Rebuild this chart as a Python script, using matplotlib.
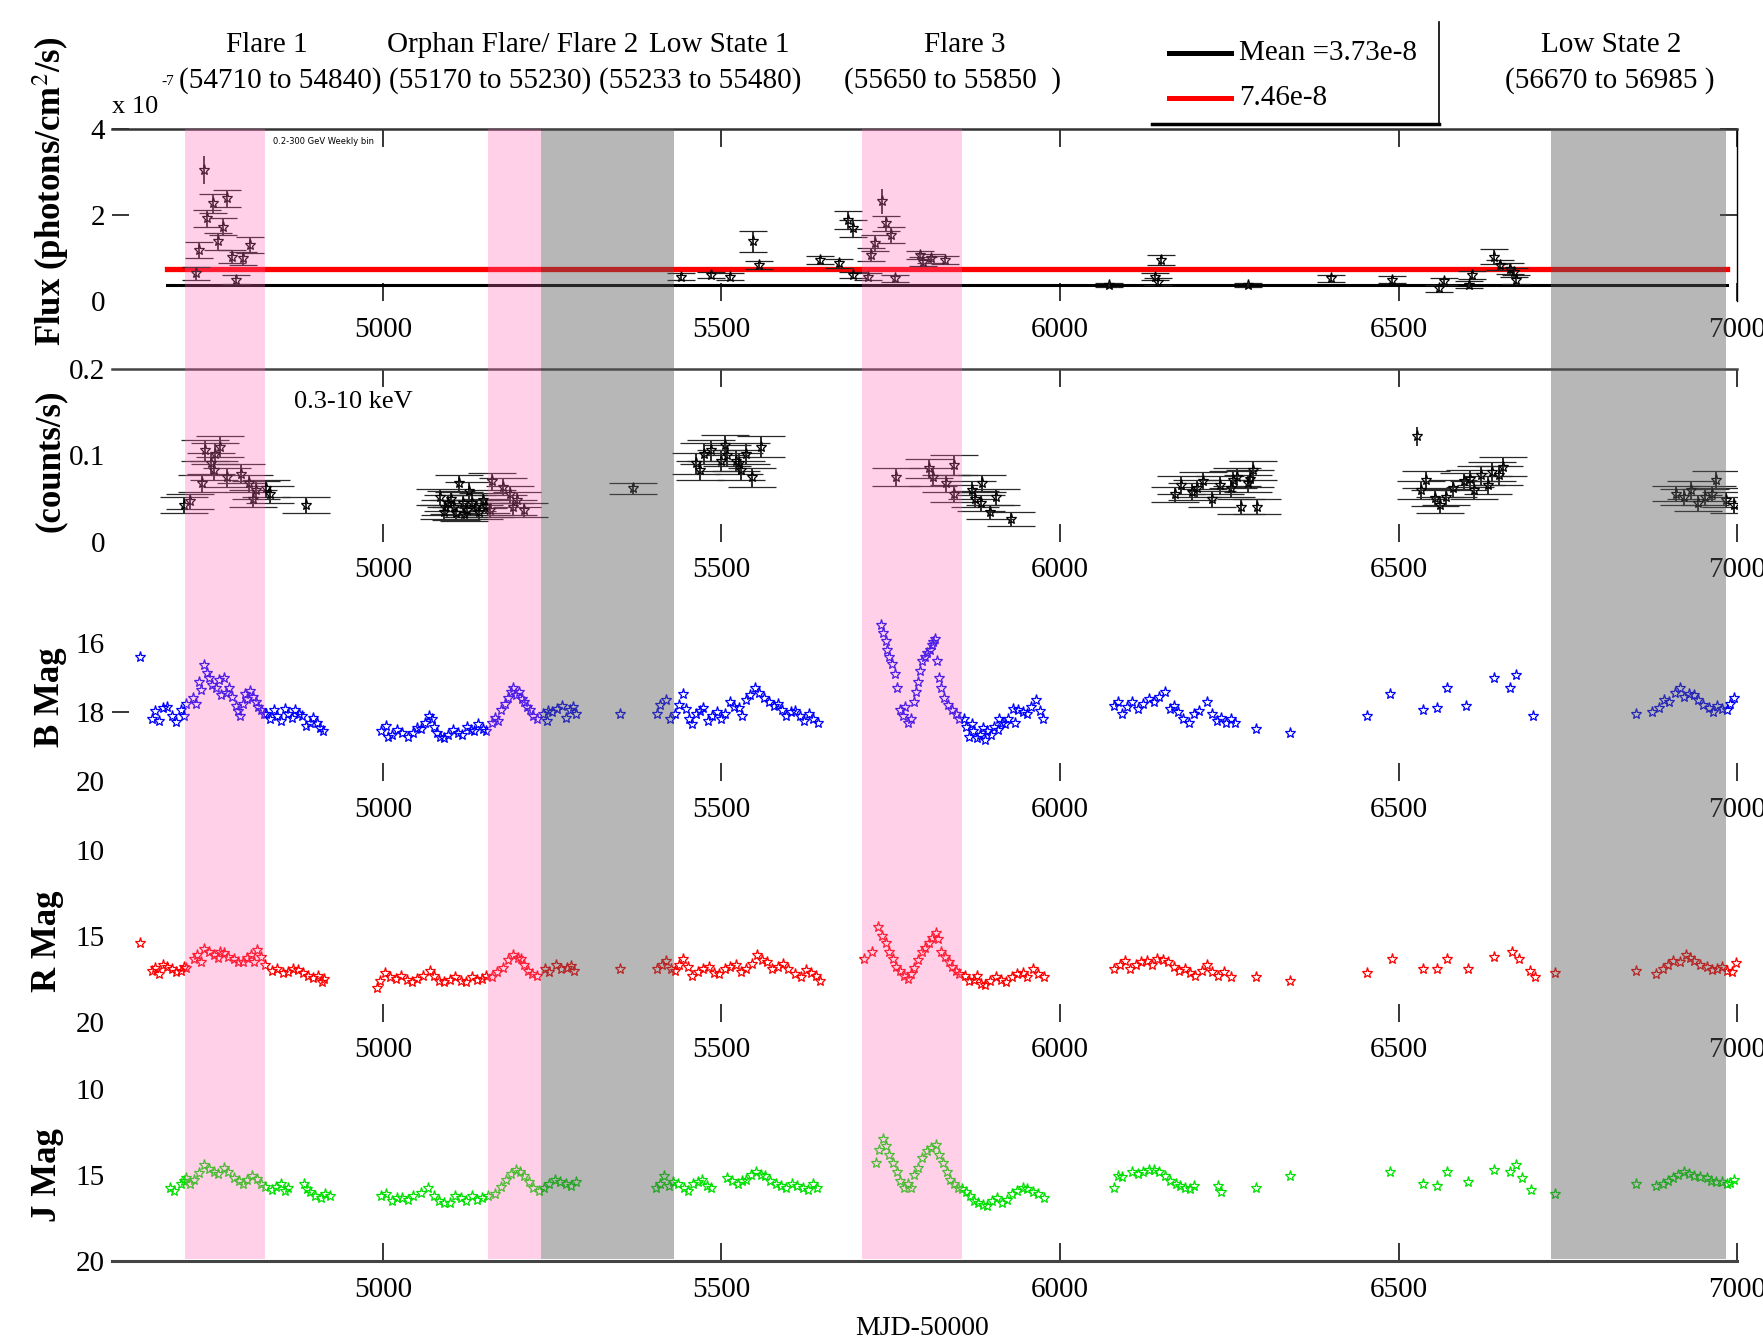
import numpy as np
import matplotlib.pyplot as plt
from matplotlib.lines import Line2D

plt.rcParams['font.family'] = ['Liberation Serif', 'DejaVu Serif']
plt.rcParams['mathtext.fontset'] = 'stix'

# ---- data (MJD-50000) ----
xlim = (4600, 7000)
xticks = [5000, 5500, 6000, 6500, 7000]

# Fermi weekly flux (1e-7 ph/cm2/s): mjd, flux, err
fermi = np.array([
    [4724, 0.65, 0.15], [4728, 1.19, 0.18], [4741, 1.93, 0.20], [4749, 2.28, 0.22],
    [4757, 1.39, 0.20], [4764, 1.73, 0.20], [4770, 2.39, 0.20], [4778, 1.04, 0.15],
    [4783, 0.50, 0.10], [4794, 1.00, 0.15], [4804, 1.31, 0.18],
    [5441, 0.57, 0.08], [5485, 0.61, 0.08], [5512, 0.57, 0.08], [5547, 1.39, 0.25],
    [5555, 0.84, 0.10], [5645, 0.96, 0.10], [5674, 0.88, 0.10], [5687, 1.89, 0.20],
    [5695, 1.70, 0.20], [5695, 0.61, 0.08], [5716, 0.57, 0.08], [5721, 1.08, 0.15],
    [5727, 1.35, 0.18], [5743, 1.81, 0.18], [5751, 1.54, 0.18], [5756, 0.53, 0.08],
    [5793, 1.08, 0.10], [5798, 0.92, 0.10], [5809, 1.00, 0.10], [5830, 0.96, 0.10],
    [6073, 0.38, 0.05], [6141, 0.57, 0.08], [6145, 0.45, 0.08], [6149, 0.96, 0.12],
    [6277, 0.38, 0.05], [6401, 0.53, 0.08], [6491, 0.50, 0.08], [6560, 0.30, 0.08],
    [6567, 0.46, 0.08], [6604, 0.38, 0.08], [6609, 0.61, 0.10], [6641, 1.04, 0.18],
    [6650, 0.84, 0.12], [6665, 0.76, 0.12], [6670, 0.67, 0.10], [6673, 0.50, 0.10],
])
fermi_nocap = np.array([[4736, 3.05, 0.33], [5737, 2.32, 0.30]])
fermi_mean = 0.373
fermi_twice_mean = 0.746
mean_span = (4682, 6985)

# Swift XRT 0.3-10 keV (counts/s): mjd, rate, err
xray = np.array([
    [4707, .043, .009], [4715, .047, .009], [4733, .068, .010], [4738, .106, .012],
    [4747, .091, .012], [4750, .083, .011], [4752, .102, .012], [4759, .110, .012],
    [4770, .075, .011], [4791, .079, .011], [4802, .068, .010], [4808, .050, .010],
    [4812, .060, .010], [4828, .062, .010], [4833, .055, .010], [4886, .043, .009],
    [5085, .052, .009], [5090, .035, .008], [5092, .040, .009], [5097, .045, .009],
    [5100, .050, .009], [5105, .040, .008], [5108, .033, .008], [5113, .068, .010],
    [5118, .045, .009], [5120, .032, .008], [5124, .037, .008], [5127, .059, .010],
    [5132, .045, .009], [5137, .040, .009], [5142, .035, .008], [5148, .048, .009],
    [5152, .042, .008], [5159, .037, .008],
    [5161, .070, .010], [5177, .064, .010], [5188, .055, .010], [5192, .040, .009],
    [5198, .049, .009], [5209, .037, .008], [5369, .062, .006],
    [5463, .091, .012], [5468, .083, .011], [5474, .102, .012], [5485, .106, .012],
    [5500, .094, .012], [5505, .112, .012], [5508, .100, .012], [5521, .094, .012],
    [5526, .091, .012], [5529, .083, .011], [5536, .102, .012], [5545, .075, .011],
    [5558, .110, .012],
    [5758, .075, .010], [5806, .085, .011], [5812, .075, .010], [5832, .068, .010],
    [5843, .089, .011], [5843, .056, .010],
    [5870, .060, .010], [5875, .050, .009], [5883, .045, .009], [5885, .068, .010],
    [5896, .035, .008], [5906, .052, .009], [5927, .027, .008],
    [6170, .055, .009], [6179, .066, .010], [6195, .058, .010], [6203, .062, .010],
    [6212, .071, .010], [6224, .050, .009], [6237, .066, .010], [6253, .062, .010],
    [6256, .072, .010], [6262, .075, .010], [6267, .041, .009], [6278, .068, .010],
    [6280, .073, .010], [6285, .083, .011], [6291, .041, .009],
    [6533, .060, .010], [6541, .072, .010], [6554, .051, .009], [6562, .043, .009],
    [6570, .052, .009], [6580, .062, .010], [6596, .070, .010], [6606, .073, .010],
    [6611, .060, .010], [6622, .077, .011], [6632, .066, .010], [6638, .081, .011],
    [6648, .077, .011], [6654, .087, .011],
    [6910, .056, .009], [6921, .052, .009], [6932, .060, .010], [6942, .045, .009],
    [6952, .052, .009], [6963, .056, .009], [6969, .072, .010], [6984, .049, .009],
    [6995, .043, .009],
])
xray_nocap = np.array([[6528, 0.122, 0.011]])

# optical / NIR light curves: mjd, mag
b_band = np.array([
    [4641, 16.40], [4659, 18.18], [4664, 17.95], [4670, 18.25], [4675, 17.88], [4681, 17.85],
    [4688, 18.11], [4694, 18.28], [4702, 17.94], [4706, 18.10], [4710, 17.76],
    [4720, 17.59], [4724, 17.75], [4728, 17.11], [4732, 17.35], [4736, 16.64], [4740, 16.85],
    [4744, 17.00], [4748, 17.20], [4754, 17.29], [4758, 17.05], [4761, 17.50], [4765, 17.00],
    [4769, 17.45], [4773, 17.29], [4778, 17.55], [4783, 17.82], [4786, 17.95], [4789, 18.12],
    [4793, 17.75], [4797, 17.47], [4800, 17.60], [4804, 17.38], [4808, 17.55], [4812, 17.70],
    [4816, 17.85], [4820, 17.94], [4824, 18.05],
    [4828, 18.06], [4833, 18.20], [4839, 17.94], [4844, 18.10], [4849, 18.24], [4855, 17.90],
    [4860, 18.06], [4866, 18.15], [4871, 17.94], [4876, 18.05], [4881, 18.12], [4887, 18.40],
    [4892, 18.30], [4897, 18.15], [4903, 18.30], [4907, 18.45], [4911, 18.53],
    [4997, 18.53], [5004, 18.40], [5008, 18.70], [5013, 18.65], [5021, 18.50], [5029, 18.59],
    [5037, 18.70], [5045, 18.59], [5050, 18.45], [5056, 18.47], [5062, 18.30], [5068, 18.12],
    [5072, 18.20], [5076, 18.41], [5080, 18.60], [5084, 18.71], [5090, 18.75], [5097, 18.65],
    [5104, 18.50], [5111, 18.59], [5117, 18.65], [5124, 18.41], [5130, 18.50], [5135, 18.53],
    [5141, 18.35], [5148, 18.47], [5153, 18.55],
    [5161, 18.30], [5165, 18.15], [5170, 18.25], [5174, 17.94], [5180, 17.75], [5185, 17.59],
    [5189, 17.40], [5193, 17.29], [5197, 17.50], [5201, 17.41], [5205, 17.60], [5209, 17.70],
    [5213, 17.85], [5217, 17.94], [5222, 18.10], [5227, 18.18],
    [5237, 18.06], [5243, 18.25], [5244, 17.95], [5250, 18.00], [5257, 17.90], [5264, 17.82],
    [5270, 18.15], [5277, 17.94], [5281, 17.85], [5285, 18.06], [5351, 18.06],
    [5405, 18.06], [5410, 17.80], [5418, 17.65], [5424, 18.20], [5431, 18.06], [5437, 17.80],
    [5444, 17.47], [5448, 17.90], [5452, 18.18], [5457, 18.35], [5463, 18.06], [5468, 17.95],
    [5473, 17.88], [5480, 18.25], [5486, 18.12], [5493, 18.00], [5500, 18.18], [5506, 18.05],
    [5513, 17.70], [5519, 17.85], [5526, 17.88], [5531, 18.10], [5537, 17.65], [5543, 17.50],
    [5550, 17.29], [5556, 17.45], [5563, 17.59], [5570, 17.70], [5577, 17.82], [5583, 17.75],
    [5590, 17.94], [5596, 18.10], [5603, 18.00], [5609, 17.95], [5616, 18.12], [5622, 18.25],
    [5629, 18.06], [5636, 18.20], [5643, 18.30],
    [5735, 15.46], [5738, 15.70], [5743, 15.93], [5745, 16.20], [5748, 16.40], [5752, 16.60],
    [5756, 16.88], [5760, 17.30], [5764, 17.94], [5768, 18.10], [5771, 17.85], [5775, 18.30],
    [5780, 18.20], [5785, 17.70], [5788, 17.40], [5790, 17.11], [5793, 16.80], [5796, 16.52],
    [5800, 16.40], [5804, 16.28], [5808, 16.20], [5811, 16.05], [5813, 15.95], [5816, 15.87],
    [5819, 16.50], [5822, 17.00], [5825, 17.30], [5829, 17.59], [5835, 17.80], [5840, 17.94],
    [5846, 18.05], [5851, 18.18],
    [5858, 18.20], [5861, 18.41], [5866, 18.70], [5870, 18.35], [5872, 18.53], [5877, 18.75],
    [5882, 18.65], [5887, 18.45], [5890, 18.80], [5893, 18.53], [5898, 18.65], [5903, 18.41],
    [5908, 18.50], [5910, 18.20], [5914, 18.30], [5919, 18.35], [5924, 18.18], [5930, 17.90],
    [5934, 18.30], [5938, 17.94], [5945, 18.00], [5951, 18.06], [5957, 17.85], [5965, 17.65],
    [5970, 17.95], [5975, 18.18],
    [6080, 17.82], [6085, 17.70], [6091, 18.06], [6099, 17.85], [6107, 17.70], [6115, 17.90],
    [6123, 17.76], [6131, 17.60], [6139, 17.70], [6147, 17.55], [6155, 17.41], [6162, 17.90],
    [6169, 17.82], [6175, 18.00], [6182, 18.18], [6190, 18.30], [6198, 18.06], [6205, 17.95],
    [6217, 17.70], [6225, 18.05], [6232, 18.24], [6238, 18.15], [6245, 18.30], [6252, 18.20],
    [6258, 18.30], [6290, 18.47], [6340, 18.59],
    [6454, 18.12], [6488, 17.47], [6536, 17.94], [6557, 17.88], [6572, 17.29], [6599, 17.82],
    [6641, 17.00], [6665, 17.29], [6673, 16.93], [6699, 18.12],
    [6850, 18.06], [6875, 18.00], [6884, 17.88], [6892, 17.65], [6900, 17.70], [6908, 17.45],
    [6916, 17.29], [6922, 17.55], [6929, 17.47], [6936, 17.50], [6943, 17.65], [6950, 17.80],
    [6958, 17.88], [6965, 18.00], [6971, 17.82], [6978, 17.90], [6985, 17.94], [6990, 17.75],
    [6995, 17.58],
])
r_band = np.array([
    [4641, 15.40], [4659, 17.06], [4664, 16.85], [4670, 17.20], [4675, 16.70], [4681, 16.80],
    [4688, 16.90], [4694, 17.10], [4702, 17.06], [4706, 16.80], [4710, 16.88],
    [4721, 16.35], [4726, 16.10], [4731, 16.50], [4736, 15.76], [4743, 15.90], [4750, 16.11],
    [4757, 16.30], [4760, 15.90], [4765, 16.00], [4772, 16.20], [4780, 16.35], [4786, 16.50],
    [4794, 16.52], [4800, 16.30], [4806, 16.11], [4810, 16.50], [4814, 15.80], [4820, 16.20],
    [4826, 16.70], [4836, 17.06], [4844, 16.90], [4852, 17.14], [4860, 17.10], [4868, 16.94],
    [4875, 16.95], [4882, 17.14], [4889, 17.30], [4897, 17.42], [4905, 17.30], [4910, 17.70],
    [4913, 17.50],
    [4992, 18.01], [4996, 17.60], [5003, 17.14], [5010, 17.40], [5019, 17.50], [5027, 17.30],
    [5035, 17.55], [5043, 17.70], [5051, 17.50], [5060, 17.30], [5070, 17.06], [5075, 17.35],
    [5083, 17.62], [5090, 17.70], [5099, 17.55], [5107, 17.40], [5115, 17.62], [5123, 17.70],
    [5131, 17.40], [5139, 17.55], [5147, 17.50], [5152, 17.35],
    [5161, 17.40], [5169, 17.10], [5177, 16.88], [5185, 16.40], [5193, 16.11], [5199, 16.30],
    [5204, 16.35], [5209, 16.70], [5214, 17.06], [5220, 17.20], [5227, 17.30],
    [5240, 16.94], [5246, 17.10], [5256, 16.70], [5263, 16.90], [5272, 16.88], [5278, 16.75],
    [5282, 17.06], [5351, 16.94],
    [5405, 16.94], [5412, 16.70], [5418, 16.47], [5425, 16.90], [5431, 17.06], [5437, 16.70],
    [5444, 16.35], [5450, 16.80], [5457, 17.30], [5465, 17.10], [5473, 16.94], [5481, 16.80],
    [5489, 17.14], [5497, 17.20], [5505, 16.94], [5513, 16.80], [5521, 16.70], [5529, 17.10],
    [5537, 16.94], [5545, 16.60], [5553, 16.11], [5560, 16.40], [5567, 16.52], [5575, 16.90],
    [5583, 16.82], [5591, 16.60], [5599, 16.94], [5608, 17.20], [5617, 17.40], [5625, 17.00],
    [5633, 17.14], [5640, 17.30], [5646, 17.60],
    [5711, 16.35], [5722, 15.90], [5732, 14.45], [5737, 15.00], [5743, 15.40], [5748, 15.90],
    [5753, 16.35], [5758, 16.80], [5764, 17.06], [5770, 17.30], [5775, 17.50], [5780, 17.20],
    [5785, 16.88], [5790, 16.40], [5796, 15.90], [5801, 15.70], [5806, 15.40], [5811, 15.10],
    [5817, 14.82], [5820, 15.20], [5825, 15.90], [5830, 16.20], [5836, 16.52], [5841, 16.80],
    [5846, 17.06], [5851, 17.20],
    [5860, 17.30], [5866, 17.60], [5873, 17.55], [5878, 17.35], [5883, 17.80], [5890, 17.85],
    [5897, 17.62], [5905, 17.40], [5913, 17.55], [5920, 17.70], [5929, 17.40], [5937, 17.20],
    [5945, 17.14], [5952, 17.40], [5960, 16.94], [5968, 17.20], [5976, 17.40],
    [6080, 16.94], [6088, 16.70], [6096, 16.47], [6104, 16.90], [6112, 16.70], [6120, 16.50],
    [6128, 16.47], [6136, 16.70], [6144, 16.35], [6152, 16.40], [6160, 16.52], [6168, 16.80],
    [6176, 17.06], [6184, 16.90], [6192, 17.14], [6200, 17.30], [6210, 17.06], [6217, 16.70],
    [6225, 17.10], [6233, 17.30], [6242, 17.10], [6252, 17.40],
    [6290, 17.40], [6340, 17.62],
    [6454, 17.14], [6491, 16.35], [6536, 16.94], [6557, 16.94], [6572, 16.35], [6602, 16.94],
    [6641, 16.23], [6668, 15.90], [6678, 16.35], [6694, 17.06], [6702, 17.40], [6731, 17.14],
    [6850, 17.06], [6880, 17.20], [6890, 16.94], [6898, 16.70], [6906, 16.47], [6915, 16.50],
    [6924, 16.11], [6930, 16.30], [6937, 16.47], [6945, 16.70], [6956, 16.82], [6963, 17.00],
    [6971, 16.94], [6978, 16.80], [6985, 17.06], [6992, 17.10], [6998, 16.58],
])
j_band = np.array([
    [4686, 15.72], [4692, 15.90], [4702, 15.50], [4706, 15.30], [4710, 15.13], [4716, 15.50],
    [4721, 15.25], [4728, 14.85], [4736, 14.42], [4743, 14.60], [4750, 14.78], [4757, 14.90],
    [4765, 14.54], [4772, 14.80], [4780, 15.13], [4787, 15.30], [4794, 15.50], [4800, 15.25],
    [4807, 15.02], [4814, 15.20], [4820, 15.50], [4826, 15.70], [4836, 15.86], [4843, 15.70],
    [4849, 15.50], [4855, 15.90], [4860, 15.72], [4884, 15.50], [4888, 15.80], [4892, 15.98],
    [4900, 16.20], [4908, 16.34], [4915, 16.10], [4922, 16.22],
    [4997, 16.22], [5005, 16.10], [5013, 16.46], [5021, 16.30], [5029, 16.34], [5037, 16.45],
    [5045, 16.22], [5056, 16.00], [5067, 15.72], [5075, 16.20], [5083, 16.46], [5091, 16.60],
    [5099, 16.58], [5107, 16.20], [5115, 16.34], [5123, 16.50], [5131, 16.22], [5139, 16.40],
    [5147, 16.34], [5155, 16.20],
    [5166, 16.10], [5174, 15.70], [5182, 15.25], [5189, 14.90], [5196, 14.66], [5203, 14.80],
    [5209, 15.02], [5216, 15.40], [5222, 15.72], [5230, 15.90],
    [5238, 15.72], [5246, 15.50], [5254, 15.25], [5262, 15.40], [5270, 15.50], [5278, 15.60],
    [5286, 15.37],
    [5403, 15.72], [5410, 15.50], [5416, 15.02], [5422, 15.60], [5429, 15.37], [5436, 15.50],
    [5445, 15.72], [5451, 15.90], [5458, 15.50], [5465, 15.40], [5472, 15.25], [5479, 15.60],
    [5485, 15.72], [5508, 15.13], [5515, 15.30], [5524, 15.50], [5530, 15.35], [5537, 15.25],
    [5544, 15.00], [5551, 14.78], [5558, 14.95], [5564, 15.02], [5572, 15.30], [5580, 15.50],
    [5588, 15.60], [5596, 15.72], [5604, 15.50], [5612, 15.60], [5620, 15.75], [5628, 15.86],
    [5635, 15.50], [5641, 15.72],
    [5728, 14.30], [5733, 13.50], [5738, 12.87], [5743, 13.30], [5748, 13.82], [5753, 14.30],
    [5759, 14.78], [5764, 15.30], [5769, 15.72], [5775, 15.50], [5780, 15.72], [5785, 15.00],
    [5790, 14.54], [5797, 14.00], [5804, 13.58], [5810, 13.40], [5817, 13.22], [5822, 13.80],
    [5828, 14.30], [5833, 14.80], [5838, 15.25], [5844, 15.50], [5849, 15.72], [5855, 15.80],
    [5862, 15.98], [5867, 16.20], [5873, 16.46], [5879, 16.60], [5886, 16.70], [5892, 16.80],
    [5899, 16.46], [5907, 16.30], [5915, 16.58], [5922, 16.40], [5929, 16.10], [5937, 15.90],
    [5945, 15.72], [5952, 15.80], [5960, 15.98], [5968, 16.10], [5976, 16.34],
    [6080, 15.72], [6086, 15.02], [6092, 15.10], [6107, 14.78], [6115, 14.90], [6123, 14.78],
    [6131, 14.70], [6139, 14.66], [6147, 14.80], [6155, 15.02], [6163, 15.30], [6171, 15.50],
    [6178, 15.60], [6185, 15.72], [6192, 15.80], [6198, 15.60], [6233, 15.60], [6238, 15.98],
    [6290, 15.72], [6340, 15.02],
    [6488, 14.78], [6536, 15.50], [6557, 15.60], [6572, 14.78], [6602, 15.37], [6641, 14.66],
    [6665, 14.78], [6673, 14.42], [6683, 15.13], [6696, 15.86], [6731, 16.10],
    [6850, 15.50], [6880, 15.60], [6890, 15.50], [6898, 15.35], [6906, 15.13], [6913, 14.95],
    [6921, 14.78], [6929, 14.90], [6937, 15.02], [6945, 15.10], [6956, 15.13], [6962, 15.30],
    [6969, 15.37], [6978, 15.40], [6985, 15.50], [6990, 15.45], [6995, 15.25],
])

# shaded activity states
shade_start = [4708, 5156, 5233, 5708, 6725]
shade_end = [4826, 5233, 5430, 5855, 6983]
shade_kind = ['flare', 'flare', 'low', 'flare', 'low']

state_names = ['Flare 1', 'Orphan Flare/ Flare 2', 'Low State 1', 'Flare 3', 'Low State 2']
state_ranges = ['(54710 to 54840)', '(55170 to 55230)', '(55233 to 55480)',
                '(55650 to 55850  )', '(56670 to 56985 )']

# ---- figure ----
fig = plt.figure(figsize=(17.63, 13.39), dpi=100)
L, W = 0.0635, 0.9218
ax_g = fig.add_axes([L, 0.7750, W, 0.1285])
ax_x = fig.add_axes([L, 0.5952, W, 0.1293])
ax_b = fig.add_axes([L, 0.4164, W, 0.1032])
ax_r = fig.add_axes([L, 0.2367, W, 0.1285])
ax_j = fig.add_axes([L, 0.0579, W, 0.1285])
panels = [ax_g, ax_x, ax_b, ax_r, ax_j]

for ax in panels:
    ax.set_facecolor('none')
    ax.set_xlim(*xlim)
    ax.set_xticks(xticks)
    ax.set_xticklabels([str(t) for t in xticks])
    for s in ax.spines.values():
        s.set_visible(False)
    ax.tick_params(axis='x', direction='in', length=13, width=1.1, labelsize=21,
                   pad=11, top=False, bottom=True)
    ax.tick_params(axis='y', direction='in', length=12, width=1.1, labelsize=21, pad=5)

# panel 1: Fermi
ax_g.set_ylim(0, 4)
ax_g.set_yticks([0, 2, 4])
ax_g.set_yticklabels(['0', '2', '4'])
ax_g.spines['top'].set_visible(True)
ax_g.spines['top'].set_color('#333333')
ax_g.spines['top'].set_linewidth(1.8)
ax_g.spines['right'].set_visible(True)
ax_g.spines['right'].set_linewidth(1.0)
ax_g.tick_params(axis='x', top=True)
ax_g.tick_params(axis='y', right=True)
t0 = ax_g.yaxis.get_major_ticks()[0]
t0.tick1line.set_visible(False)
t0.tick2line.set_visible(False)
ax_g.plot(mean_span, [fermi_mean] * 2, color='black', lw=2.2, zorder=2)
ax_g.plot(mean_span, [fermi_twice_mean] * 2, color='red', lw=3.8, zorder=2)
ax_g.errorbar(fermi[:, 0], fermi[:, 1], yerr=fermi[:, 2], fmt='*', ms=8, mfc='none',
              mec='black', mew=0.9, ecolor='#222222', elinewidth=1.3, capsize=10,
              capthick=1.6, zorder=3)
ax_g.errorbar(fermi_nocap[:, 0], fermi_nocap[:, 1], yerr=fermi_nocap[:, 2], fmt='*', ms=8,
              mfc='none', mec='black', mew=0.9, ecolor='#222222', elinewidth=1.3,
              capsize=0, zorder=3)
ax_g.text(4838, 3.72, '0.2-300 GeV Weekly bin', fontsize=6, family='DejaVu Sans', va='center')

# panel 2: X-ray
ax_x.set_ylim(0, 0.2)
ax_x.set_yticks([0, 0.1, 0.2])
ax_x.set_yticklabels(['0', '0.1', '0.2'])
ax_x.spines['top'].set_visible(True)
ax_x.spines['top'].set_color('#444444')
ax_x.spines['top'].set_linewidth(1.8)
ax_x.tick_params(axis='x', top=True)
ax_x.tick_params(axis='y', length=0)
ax_x.errorbar(xray[:, 0], xray[:, 1], yerr=xray[:, 2], fmt='*', ms=8, mfc='none',
              mec='black', mew=0.9, ecolor='#2a2a2a', elinewidth=1.4, capsize=17,
              capthick=2.6, zorder=3)
ax_x.errorbar(xray_nocap[:, 0], xray_nocap[:, 1], yerr=xray_nocap[:, 2], fmt='*', ms=8,
              mfc='none', mec='black', mew=0.9, ecolor='#222222', elinewidth=1.3,
              capsize=0, zorder=3)
ax_x.text(4869, 0.162, '0.3-10 keV', fontsize=19, va='center')

# optical / NIR
for ax, band, col, lim, ticks in [
        (ax_b, b_band, 'blue', (20, 16), [16, 18, 20]),
        (ax_r, r_band, 'red', (20, 10), [10, 15, 20]),
        (ax_j, j_band, '#00e000', (20, 10), [10, 15, 20])]:
    ax.set_ylim(*lim)
    ax.set_yticks(ticks)
    ax.set_yticklabels([str(t) for t in ticks])
    ax.plot(band[:, 0], band[:, 1], linestyle='none', marker='*', ms=8, mfc='none',
            mec=col, mew=0.9, clip_on=False)
for i in (0, 2):
    ax_b.yaxis.get_major_ticks()[i].tick1line.set_visible(False)
ax_r.tick_params(axis='y', length=0)
ax_j.tick_params(axis='y', length=0)
ax_j.spines['bottom'].set_visible(True)
ax_j.spines['bottom'].set_color('#444444')
ax_j.spines['bottom'].set_linewidth(2.2)

# shaded states drawn over everything
ax_sh = fig.add_axes([L, 0.0597, W, 0.8436])
ax_sh.set_xlim(*xlim)
ax_sh.set_ylim(0, 1)
ax_sh.axis('off')
for x0, x1, kind in zip(shade_start, shade_end, shade_kind):
    if kind == 'flare':
        ax_sh.axvspan(x0, x1, color=(1.0, 0.4, 0.7), alpha=0.3, lw=0)
    else:
        ax_sh.axvspan(x0, x1, color=(0.35, 0.35, 0.35), alpha=0.43, lw=0)

# y labels
ylab = dict(rotation=90, ha='center', va='center', fontsize=25, fontweight='bold')
fig.text(0.0287, 0.857, 'Flux (photons/cm$^2$/s)', **ylab)
fig.text(0.0287, 0.6557, '(counts/s)', **ylab)
fig.text(0.0287, 0.4794, 'B Mag', **ylab)
fig.text(0.0270, 0.2972, 'R Mag', **ylab)
fig.text(0.0270, 0.1225, 'J Mag', **ylab)
fig.text(0.0636, 0.920, 'x 10', fontsize=19, va='center')
fig.text(0.0953, 0.9395, '-7', fontsize=11, va='center', ha='center')
fig.text(0.523, 0.0075, 'MJD-50000', fontsize=20, ha='center', va='center')

# state labels
name_x = [0.1512, 0.2908, 0.4082, 0.5472, 0.914]
range_x = [0.1588, 0.278, 0.397, 0.540, 0.913]
for nx, rx, name, rng in zip(name_x, range_x, state_names, state_ranges):
    fig.text(nx, 0.9664, name, fontsize=21, ha='center', va='center')
    fig.text(rx, 0.9395, rng, fontsize=21, ha='center', va='center')

# legend
fig.add_artist(Line2D([0.6631, 0.6982], [0.9606, 0.9606], color='black', lw=3.6))
fig.add_artist(Line2D([0.6631, 0.6982], [0.9270, 0.9270], color='red', lw=3.6))
fig.text(0.7028, 0.9606, 'Mean =3.73e-8', fontsize=21, va='center')
fig.text(0.7028, 0.9270, '7.46e-8', fontsize=21, va='center')
fig.add_artist(Line2D([0.8163, 0.8163], [0.9076, 0.9832], color='black', lw=1.2))
fig.add_artist(Line2D([0.6537, 0.8163], [0.9076, 0.9076], color='black', lw=2.5))

fig.savefig('out.png', dpi=100)
